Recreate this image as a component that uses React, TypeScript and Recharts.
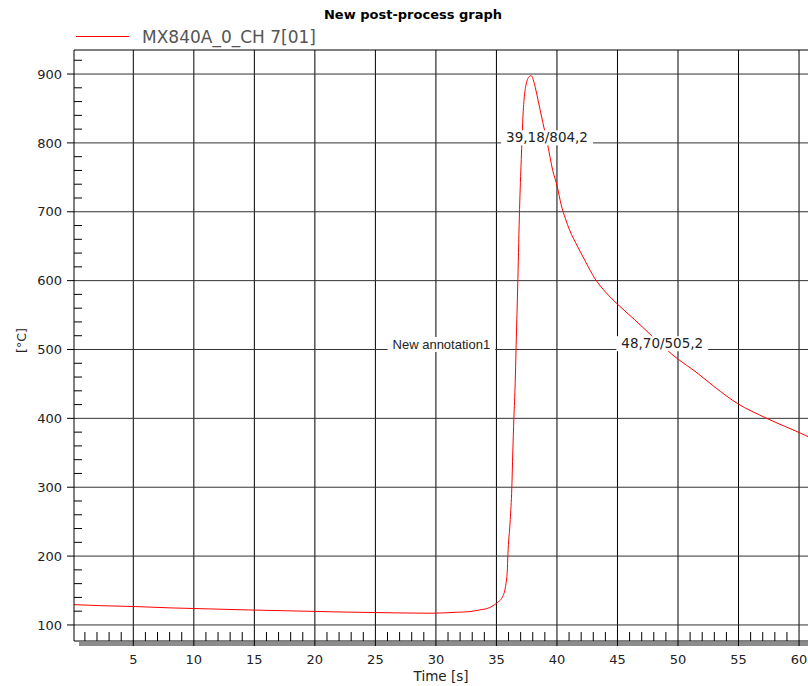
import React from 'react';
import { LineChart, Line, XAxis, YAxis, ReferenceLine, ReferenceDot } from 'recharts';

const chartTitle = 'New post-process graph';
const seriesName = 'MX840A_0_CH 7[01]';
const xAxisTitle = 'Time [s]';
const yAxisTitle = '[°C]';

const timeS = [
  0.1, 2.3, 5.2, 8.2, 11.3, 14.5, 18.1, 21.9, 26.8, 29.5, 31.8, 32.8, 33.6, 34.4, 35.0,
  35.5, 35.75, 35.9, 35.94, 36.14, 36.27, 36.35, 36.44, 36.55, 36.62, 36.77, 36.91, 37.05,
  37.18, 37.46, 37.73, 37.87, 38.14, 38.42, 38.83, 39.18, 39.65, 40.02, 40.35, 40.7, 41.03, 41.72,
  42.41, 43.1, 44.06, 45.02, 46.4, 47.8, 49.5, 50.04, 51.4, 53.07, 54.92, 57.26, 60.56, 60.74,
];
const tempC = [
  129.5, 128, 126.7, 124.7, 123.3, 121.8, 120.4, 118.9, 117.5, 117, 118.5, 119.4, 121.8, 125, 131.5,
  141, 155.7, 180, 199, 252.7, 298.8, 349.7, 399.6, 451.6, 500, 601.8, 703.6, 776,
  834.5, 885.5, 896.6, 897.5, 885.5, 863.6, 829.7, 802, 760, 737, 710, 690, 674, 649,
  626, 604, 582.5, 565.5, 543.6, 520.4, 493, 485.5, 468.5, 445, 421.5, 400.6, 375, 373.5,
];

const xMajorTicks = [5, 10, 15, 20, 25, 30, 35, 40, 45, 50, 55, 60];
const yMajorTicks = [100, 200, 300, 400, 500, 600, 700, 800, 900];
const xAllTicks = Array.from({ length: 60 }, (_, i) => i + 1);
const yAllTicks = Array.from({ length: 42 }, (_, i) => 100 + i * 20);

const annTimes = [39.18, 30.45, 48.7];
const annValues = [804.2, 504, 505.2];
const annTexts = ['39,18/804,2', 'New annotation1', '48,70/505,2'];
const annFonts = ['13.5px "DejaVu Sans"', '13px "Liberation Sans"', '13.5px "DejaVu Sans"'];

const X_DOMAIN: [number, number] = [0.1, 60.74];
const Y_DOMAIN: [number, number] = [76.7, 934.9];

const data = timeS.map((t, i) => ({ t, temp: tempC[i] }));

let measureCtx: CanvasRenderingContext2D | null = null;
function measure(text: string, font: string): number {
  if (!measureCtx) {
    const c = document.createElement('canvas');
    measureCtx = c.getContext('2d');
  }
  if (!measureCtx) return text.length * 7;
  measureCtx.font = font;
  return measureCtx.measureText(text).width;
}

const YTick = (props: any) => {
  const { x, y, payload } = props;
  const v = payload.value;
  if (v % 100 === 0) {
    return (
      <g>
        <line x1={x - 7} x2={x} y1={y} y2={y} stroke="#000" />
        <text x={x - 12} y={y} dy="0.36em" textAnchor="end" fontFamily="DejaVu Sans" fontSize={13} fill="#222">
          {v}
        </text>
      </g>
    );
  }
  return <line x1={x} x2={x + 8} y1={y} y2={y} stroke="#000" />;
};

const XTick = (props: any) => {
  const { x, y, payload } = props;
  const v = payload.value;
  if (v % 5 === 0) {
    return (
      <g>
        <line x1={x} x2={x} y1={y} y2={y + 5} stroke="#000" />
        <text x={x} y={y + 22.5} textAnchor="middle" fontFamily="DejaVu Sans" fontSize={13} fill="#222">
          {v}
        </text>
      </g>
    );
  }
  return <line x1={x} x2={x} y1={y - 9} y2={y} stroke="#000" />;
};

const XAxisDecor = (props: any) => {
  const vb = props.viewBox || { x: 74, y: 641, width: 734, height: 45 };
  return (
    <g>
      <rect x={vb.x + 5} y={vb.y + 1} width={vb.width} height={4} fill="#8c8c8c" />
      <text x={vb.x + vb.width / 2} y={vb.y + 40} textAnchor="middle" fontFamily="DejaVu Sans" fontSize={13.5} fill="#222">
        {xAxisTitle}
      </text>
    </g>
  );
};

const YAxisDecor = (props: any) => {
  const vb = props.viewBox || { x: 0, y: 50, width: 74, height: 591 };
  const cx = vb.x + 21;
  const cy = vb.y + vb.height / 2 - 5;
  return (
    <text
      x={cx}
      y={cy}
      transform={`rotate(-90 ${cx} ${cy})`}
      textAnchor="middle"
      dy="0.36em"
      fontFamily="DejaVu Sans"
      fontSize={12.5}
      fill="#222"
    >
      {yAxisTitle}
    </text>
  );
};

const makeAnnotationShape = (idx: number) => (props: any) => {
  const { cx, cy } = props;
  const text = annTexts[idx];
  const font = annFonts[idx];
  const w = measure(text, font);
  const baseline = cy + 2.3;
  return (
    <g>
      <rect x={cx - w / 2 - 5} y={baseline - 12} width={w + 10} height={15} fill="#fff" />
      <text
        x={cx}
        y={baseline}
        textAnchor="middle"
        style={{ font }}
        fill="#222"
      >
        {text}
      </text>
    </g>
  );
};

export default function App() {
  return (
    <div style={{ position: 'absolute', left: 0, top: 0, width: 808, height: 686, background: '#fff', overflow: 'hidden' }}>
      <LineChart
        width={808}
        height={686}
        data={data}
        margin={{ top: 50, right: 0, bottom: 0, left: 0 }}
      >
        <XAxis
          dataKey="t"
          type="number"
          domain={X_DOMAIN}
          allowDataOverflow
          ticks={xAllTicks}
          interval={0}
          tick={<XTick />}
          tickLine={false}
          tickSize={0}
          tickMargin={0}
          height={45}
          axisLine={{ stroke: '#000' }}
          label={{ content: <XAxisDecor /> }}
        />
        <YAxis
          type="number"
          domain={Y_DOMAIN}
          allowDataOverflow
          ticks={yAllTicks}
          interval={0}
          tick={<YTick />}
          tickLine={false}
          tickSize={0}
          tickMargin={0}
          width={74}
          axisLine={{ stroke: '#000' }}
          label={{ content: <YAxisDecor /> }}
        />
        {xMajorTicks.map((v) => (
          <ReferenceLine key={'vx' + v} x={v} stroke="#000" strokeWidth={1} zIndex={-10} />
        ))}
        {yMajorTicks.map((v) => (
          <ReferenceLine key={'hy' + v} y={v} stroke="#333" strokeWidth={1} zIndex={-10} />
        ))}
        <ReferenceLine y={Y_DOMAIN[1]} stroke="#000" strokeWidth={1} zIndex={-10} />
        <Line
          type="monotone"
          dataKey="temp"
          name={seriesName}
          stroke="#ff0000"
          strokeWidth={1}
          dot={false}
          isAnimationActive={false}
        />
        {annTexts.map((txt, i) => (
          <ReferenceDot
            key={txt}
            x={annTimes[i]}
            y={annValues[i]}
            r={0}
            zIndex={1000}
            shape={makeAnnotationShape(i)}
          />
        ))}
      </LineChart>
      <svg width={808} height={50} style={{ position: 'absolute', left: 0, top: 0 }}>
        <text x={413} y={19} textAnchor="middle" fontFamily="DejaVu Sans" fontWeight="bold" fontSize={13} fill="#000">
          {chartTitle}
        </text>
        <line x1={76} x2={129} y1={36.5} y2={36.5} stroke="#ff0000" strokeWidth={1} />
        <text x={142} y={43.3} fontFamily="DejaVu Sans" fontSize={17} fill="#555">
          {seriesName}
        </text>
      </svg>
    </div>
  );
}
